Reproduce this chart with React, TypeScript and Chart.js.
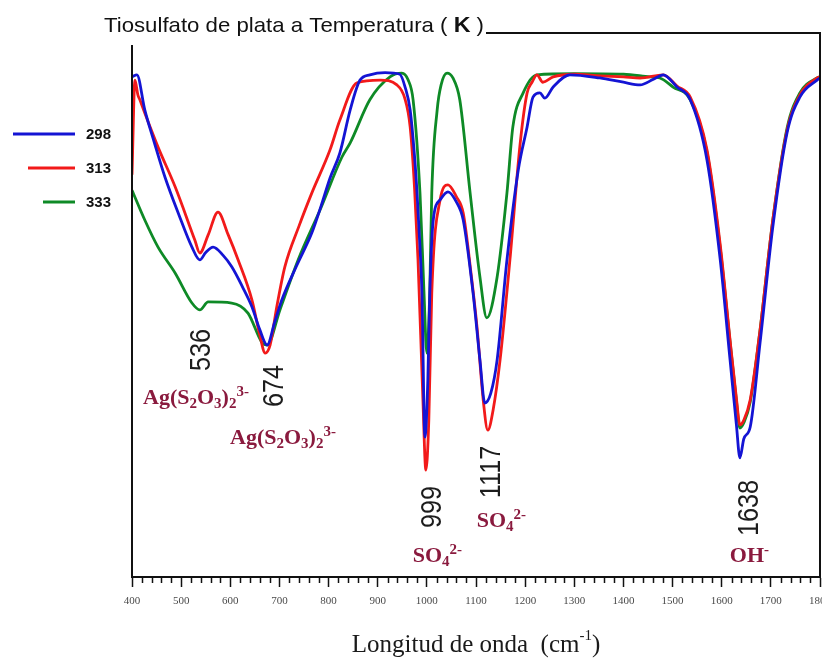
import React, { useEffect, useRef } from 'react';
import { Chart, registerables } from 'chart.js';

Chart.register(...registerables);

// ---------- data ----------
const X_MIN = 400;
const X_MAX = 1800;
const xTickValues = [400, 500, 600, 700, 800, 900, 1000, 1100, 1200, 1300, 1400, 1500, 1600, 1700, 1800];

const seriesLabels = ['298', '313', '333'];
const seriesColors = ['#1414d4', '#f21a1a', '#0e8a26'];

const wn298 = [400, 410, 426, 445, 467, 495, 522, 538, 550, 565, 585, 603, 625, 644, 660, 675, 690, 705, 735, 766, 785, 803, 823, 844, 864, 884, 915, 945, 956, 966, 975, 980, 986, 990, 996, 1002, 1006, 1013, 1027, 1043, 1060, 1074, 1094, 1108, 1118, 1130, 1143, 1163, 1186, 1204, 1216, 1230, 1240, 1257, 1291, 1352, 1400, 1434, 1460, 1481, 1509, 1536, 1570, 1597, 1617, 1630, 1637, 1645, 1658, 1678, 1704, 1733, 1759, 1794, 1800];
const tr298 = [94.0, 94.4, 87.8, 81.8, 75.2, 68.2, 62.0, 59.6, 61.0, 62.0, 60.5, 58.3, 54.5, 50.8, 46.5, 43.6, 47.8, 52.1, 58.5, 64.7, 69.8, 75.0, 79.7, 87.8, 93.4, 94.4, 94.8, 94.5, 92.0, 87.8, 79.0, 72.2, 62.0, 53.4, 26.3, 37.0, 53.4, 67.1, 70.9, 72.4, 70.5, 67.1, 53.4, 40.8, 32.7, 34.5, 40.8, 59.6, 76.5, 84.6, 90.2, 91.0, 90.0, 92.1, 94.4, 93.8, 93.0, 92.5, 93.5, 94.4, 92.1, 89.7, 78.4, 59.6, 40.8, 28.5, 22.4, 26.0, 28.2, 44.0, 65.8, 83.5, 90.2, 93.4, 93.8];

const wn313 = [400, 406, 412, 416, 426, 453, 488, 528, 538, 555, 575, 595, 616, 644, 660, 671, 681, 695, 711, 740, 766, 803, 823, 858, 905, 939, 955, 966, 975, 982, 992, 998, 1004, 1010, 1027, 1043, 1060, 1074, 1090, 1102, 1115, 1124, 1135, 1149, 1169, 1190, 1204, 1214, 1224, 1236, 1257, 1300, 1352, 1400, 1434, 1481, 1509, 1536, 1570, 1597, 1617, 1630, 1637, 1645, 1658, 1678, 1704, 1733, 1759, 1794, 1800];
const tr313 = [75.6, 93.4, 90.6, 89.7, 87.2, 80.8, 73.3, 63.3, 60.9, 64.3, 68.6, 64.5, 59.6, 52.1, 45.5, 42.1, 43.6, 51.0, 58.3, 66.0, 72.2, 80.3, 85.9, 92.9, 93.4, 92.5, 90.0, 84.6, 73.0, 59.6, 33.3, 20.1, 29.5, 53.4, 70.9, 73.7, 71.5, 68.4, 57.0, 47.0, 33.0, 27.6, 31.5, 40.8, 59.6, 81.6, 91.0, 93.0, 94.4, 93.0, 94.0, 94.5, 94.2, 94.0, 93.8, 94.4, 92.3, 90.2, 80.3, 62.4, 44.5, 33.5, 28.6, 29.5, 33.3, 46.4, 67.1, 84.0, 90.6, 93.8, 94.0];

const wn333 = [400, 426, 453, 488, 522, 538, 555, 603, 636, 665, 675, 701, 738, 785, 827, 844, 884, 925, 949, 962, 972, 986, 994, 1000, 1006, 1010, 1021, 1029, 1041, 1053, 1067, 1088, 1108, 1122, 1143, 1163, 1175, 1196, 1224, 1300, 1400, 1454, 1474, 1501, 1536, 1570, 1597, 1617, 1630, 1637, 1645, 1658, 1678, 1704, 1733, 1759, 1794, 1800];
const tr333 = [72.7, 67.1, 62.0, 57.1, 51.5, 50.2, 51.7, 51.5, 49.6, 44.0, 43.6, 50.2, 59.6, 69.5, 78.9, 81.6, 89.7, 94.0, 94.7, 93.4, 89.7, 72.2, 53.9, 42.1, 53.9, 72.2, 87.8, 92.5, 94.7, 93.8, 89.7, 72.2, 56.4, 48.7, 56.4, 72.2, 84.6, 91.0, 94.4, 94.6, 94.5, 94.0, 93.8, 92.1, 89.7, 79.9, 61.8, 44.2, 33.0, 28.0, 29.0, 32.9, 46.4, 67.1, 84.4, 91.0, 93.8, 94.0];

const titleText = ['Tiosulfato de plata a Temperatura ( ', 'K', ' )'];
const xAxisTitle = ['Longitud de onda  (cm', '-1', ')'];

const bandValues = [536, 674, 999, 1117, 1638];
const bandLabels = ['536', '674', '999', '1117', '1638'];

// formula parts: [text, kind] kind: n = normal, b = subscript, p = superscript
const agFormula: [string, string][] = [['Ag(S', 'n'], ['2', 'b'], ['O', 'n'], ['3', 'b'], [')', 'n'], ['2', 'b'], ['3-', 'p']];
const so4Formula: [string, string][] = [['SO', 'n'], ['4', 'b'], ['2-', 'p']];
const ohFormula: [string, string][] = [['OH', 'n'], ['-', 'p']];

// ---------- helpers ----------
const toPoints = (xs: number[], ys: number[]) => xs.map((x, i) => ({ x, y: ys[i] }));

function drawFormula(ctx: CanvasRenderingContext2D, parts: [string, string][], cx: number, baseY: number, size: number) {
  const small = Math.round(size * 0.68);
  const fontFor = (k: string) => (k === 'n' ? `bold ${size}px "Liberation Serif", serif` : `bold ${small}px "Liberation Serif", serif`);
  let w = 0;
  for (const [t, k] of parts) {
    ctx.font = fontFor(k);
    w += ctx.measureText(t).width;
  }
  let x = cx - w / 2;
  ctx.textAlign = 'left';
  ctx.textBaseline = 'alphabetic';
  for (const [t, k] of parts) {
    ctx.font = fontFor(k);
    const dy = k === 'b' ? size * 0.16 : k === 'p' ? -size * 0.38 : 0;
    ctx.fillText(t, x, baseY + dy);
    x += ctx.measureText(t).width;
  }
}

function drawVertical(ctx: CanvasRenderingContext2D, text: string, cx: number, cy: number) {
  ctx.save();
  ctx.translate(cx, cy);
  ctx.rotate(-Math.PI / 2);
  ctx.scale(0.87, 1);
  ctx.font = '29px "Liberation Sans", Arial, sans-serif';
  ctx.textAlign = 'center';
  ctx.textBaseline = 'alphabetic';
  ctx.fillStyle = '#1c1c1c';
  ctx.fillText(text, 0, 10.4);
  ctx.restore();
}

const decorPlugin = {
  id: 'decor',
  afterDraw(chart: any) {
    const { ctx, chartArea: ca } = chart;
    const x = chart.scales.x;
    ctx.save();

    // minor ticks
    ctx.strokeStyle = '#111';
    ctx.lineWidth = 1.5;
    for (let v = X_MIN; v <= X_MAX; v += 20) {
      if (v % 100 === 0) continue;
      const px = Math.round(x.getPixelForValue(v)) + 0.5;
      ctx.beginPath();
      ctx.moveTo(px, ca.bottom);
      ctx.lineTo(px, ca.bottom + 6);
      ctx.stroke();
    }

    // title
    const tx = 104;
    const ty = 32;
    const f1 = '21px "Liberation Sans", Arial, sans-serif';
    const fk = 'bold 22px "Liberation Sans", Arial, sans-serif';
    ctx.font = f1;
    const w1 = ctx.measureText(titleText[0]).width;
    const w3 = ctx.measureText(titleText[2]).width;
    ctx.font = fk;
    const wk = ctx.measureText(titleText[1]).width;
    const total = w1 + wk + w3;
    const s = 380 / total;
    ctx.save();
    ctx.translate(tx, ty);
    ctx.scale(s, 1);
    ctx.fillStyle = '#111';
    ctx.textAlign = 'left';
    ctx.textBaseline = 'alphabetic';
    ctx.font = f1;
    ctx.fillText(titleText[0], 0, 0);
    ctx.font = fk;
    ctx.fillText(titleText[1], w1, 0);
    ctx.font = f1;
    ctx.fillText(titleText[2], w1 + wk, 0);
    ctx.restore();

    // frame: top line + right line, left axis
    ctx.strokeStyle = '#111';
    ctx.lineWidth = 2;
    ctx.beginPath();
    ctx.moveTo(tx + 380 + 2, 33);
    ctx.lineTo(ca.right, 33);
    ctx.lineTo(ca.right, ca.bottom);
    ctx.stroke();
    ctx.beginPath();
    ctx.moveTo(ca.left, ca.top);
    ctx.lineTo(ca.left, ca.bottom + 1);
    ctx.stroke();

    // legend
    const legY = [134, 168, 202];
    const legX0 = [13, 28, 43];
    for (let i = 0; i < 3; i++) {
      ctx.strokeStyle = seriesColors[i];
      ctx.lineWidth = 3;
      ctx.beginPath();
      ctx.moveTo(legX0[i], legY[i]);
      ctx.lineTo(75, legY[i]);
      ctx.stroke();
      ctx.fillStyle = '#111';
      ctx.font = 'bold 15px "Liberation Sans", Arial, sans-serif';
      ctx.textAlign = 'left';
      ctx.textBaseline = 'middle';
      ctx.fillText(seriesLabels[i], 86, legY[i] + 1);
    }

    // band numbers
    const offs = [1, 6, 4, 5, 7];
    const ys = [350, 386, 507, 472, 508];
    for (let i = 0; i < bandValues.length; i++) {
      drawVertical(ctx, bandLabels[i], x.getPixelForValue(bandValues[i]) + offs[i], ys[i]);
    }

    // formulas
    ctx.fillStyle = '#8a1a3e';
    drawFormula(ctx, agFormula, 196, 404, 22);
    drawFormula(ctx, agFormula, 283, 444, 22);
    drawFormula(ctx, so4Formula, x.getPixelForValue(1117) + 17, 527, 22);
    drawFormula(ctx, so4Formula, x.getPixelForValue(999) + 11, 562, 22);
    drawFormula(ctx, ohFormula, x.getPixelForValue(1638) + 9, 562, 22);

    // axis title
    ctx.fillStyle = '#1a1a1a';
    const fa = '25px "Liberation Serif", "Times New Roman", serif';
    const fs = '15px "Liberation Serif", "Times New Roman", serif';
    ctx.font = fa;
    const a1 = ctx.measureText(xAxisTitle[0]).width;
    const a3 = ctx.measureText(xAxisTitle[2]).width;
    ctx.font = fs;
    const a2 = ctx.measureText(xAxisTitle[1]).width;
    let ax = 476 - (a1 + a2 + a3) / 2;
    const ay = 652;
    ctx.textAlign = 'left';
    ctx.textBaseline = 'alphabetic';
    ctx.font = fa;
    ctx.fillText(xAxisTitle[0], ax, ay);
    ax += a1;
    ctx.font = fs;
    ctx.fillText(xAxisTitle[1], ax, ay - 12);
    ax += a2;
    ctx.font = fa;
    ctx.fillText(xAxisTitle[2], ax, ay);

    ctx.restore();
  },
};

export default function App() {
  const canvasRef = useRef<HTMLCanvasElement | null>(null);

  useEffect(() => {
    const canvas = canvasRef.current;
    if (!canvas) return;
    const data = [toPoints(wn298, tr298), toPoints(wn313, tr313), toPoints(wn333, tr333)];
    const chart = new Chart(canvas, {
      type: 'line',
      data: {
        datasets: data.map((d, i) => ({
          label: seriesLabels[i],
          data: d,
          borderColor: seriesColors[i],
          backgroundColor: seriesColors[i],
          borderWidth: 2.8,
          pointRadius: 0,
          cubicInterpolationMode: 'monotone' as const,
          fill: false,
        })),
      },
      options: {
        animation: false,
        responsive: false,
        devicePixelRatio: 1,
        layout: { padding: { left: 132, right: 2, top: 45, bottom: 0 } },
        plugins: { legend: { display: false }, tooltip: { enabled: false }, title: { display: false } },
        scales: {
          x: {
            type: 'linear',
            min: X_MIN,
            max: X_MAX,
            afterFit: (sc: any) => {
              sc.height = 85;
              sc.paddingLeft = 0;
              sc.paddingRight = 0;
            },
            afterBuildTicks: (sc: any) => {
              sc.ticks = xTickValues.map((v) => ({ value: v }));
            },
            ticks: {
              autoSkip: false,
              maxRotation: 0,
              minRotation: 0,
              padding: 8,
              color: '#4a4a4a',
              font: { family: '"Liberation Serif", serif', size: 11 },
              callback: (v: any) => String(v),
            },
            grid: { display: true, drawOnChartArea: false, drawTicks: true, tickLength: 10, tickColor: '#111', tickWidth: 1.5 },
            border: { display: true, color: '#111', width: 2 },
          },
          y: { display: false, min: 0, max: 100 },
        },
      },
      plugins: [decorPlugin],
    });
    return () => chart.destroy();
  }, []);

  return (
    <div style={{ position: 'absolute', left: 0, top: 0, width: 822, height: 662, background: '#fff' }}>
      <canvas ref={canvasRef} width={822} height={662} style={{ display: 'block', width: 822, height: 662 }} />
    </div>
  );
}
